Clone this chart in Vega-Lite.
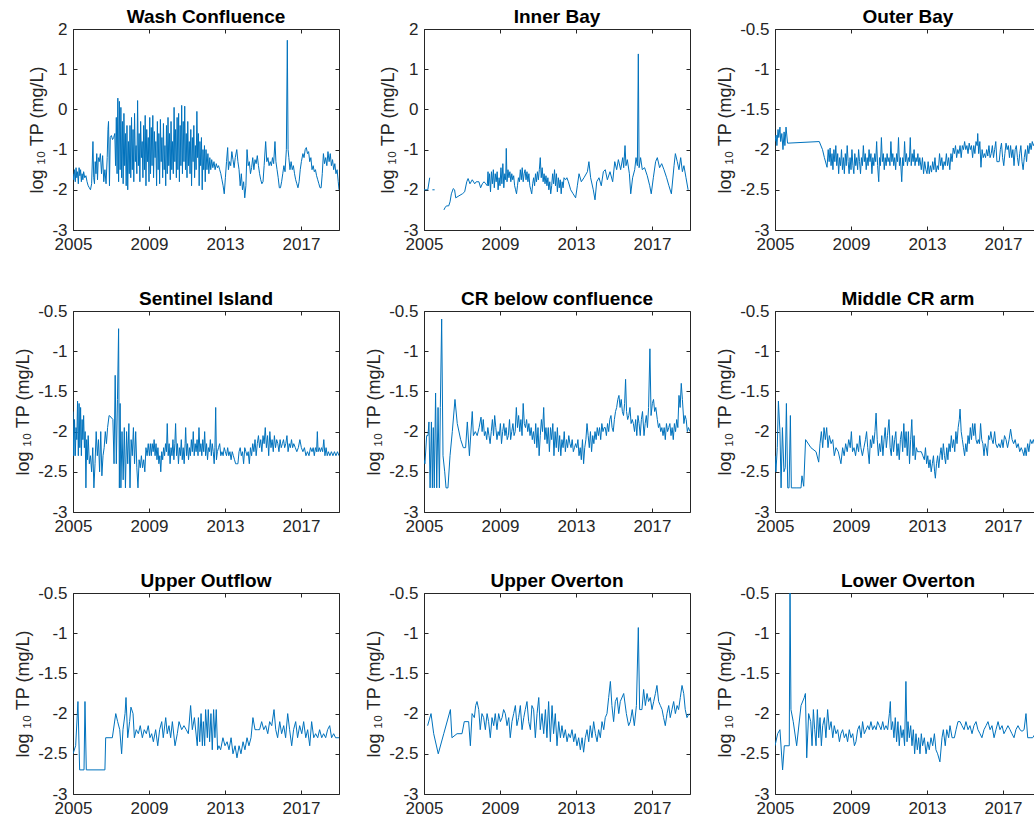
{
  "$schema": "https://vega.github.io/schema/vega-lite/v6.json",
  "background": "white",
  "padding": {"left": 14, "top": 7, "right": 0, "bottom": 0},
  "columns": 3,
  "spacing": {"row": 81, "column": 85},
  "bounds": "flush",
  "config": {
    "view": {"stroke": "#262626", "strokeWidth": 1},
    "axis": {
      "domain": false,
      "grid": false,
      "tickSize": -4,
      "tickColor": "#262626",
      "labelFont": "Liberation Sans",
      "labelFontSize": 17,
      "labelColor": "#262626",
      "labelOverlap": false,
      "labelFlush": false,
      "labelBound": false,
      "titleFont": "Liberation Sans",
      "titleFontSize": 18,
      "titleFontWeight": "normal",
      "titleColor": "#262626"
    },
    "axisX": {"labelPadding": 10},
    "axisY": {"labelPadding": 10, "titlePadding": 5},
    "title": {"font": "Liberation Sans", "fontSize": 19, "fontWeight": "bold", "color": "#000000", "frame": "group", "anchor": "middle", "offset": -7},
    "line": {"color": "#0072BD", "strokeWidth": 1}
  },
  "datasets": {
    "washConfluence": [
      {"t":2005.00,"v":-1.6},{"t":2005.04,"v":-1.75},{"t":2005.08,"v":-1.5},{"t":2005.12,"v":-1.8},{"t":2005.16,"v":-1.45},{"t":2005.20,"v":-1.7},{"t":2005.24,"v":-1.55},{"t":2005.28,"v":-1.85},{"t":2005.32,"v":-1.45},{"t":2005.36,"v":-1.65},{"t":2005.40,"v":-1.5},{"t":2005.44,"v":-1.8},{"t":2005.48,"v":-1.6},{"t":2005.52,"v":-1.75},{"t":2005.56,"v":-1.55},{"t":2005.62,"v":-1.7},{"t":2005.68,"v":-1.65},{"t":2005.74,"v":-1.8},{"t":2005.80,"v":-1.9},{"t":2005.86,"v":-1.95},{"t":2005.92,"v":-2.0},{"t":2005.98,"v":-1.85},
      {"t":2006.05,"v":-0.8},{"t":2006.09,"v":-1.7},{"t":2006.13,"v":-1.85},{"t":2006.17,"v":-1.3},{"t":2006.21,"v":-1.6},{"t":2006.25,"v":-1.1},{"t":2006.29,"v":-1.75},{"t":2006.33,"v":-1.2},{"t":2006.38,"v":-1.3},{"t":2006.44,"v":-1.1},{"t":2006.50,"v":-1.6},{"t":2006.56,"v":-1.15},{"t":2006.62,"v":-1.8},{"t":2006.68,"v":-1.5},{"t":2006.74,"v":-1.85},{"t":2006.80,"v":-1.2},{"t":2006.84,"v":-0.5},{"t":2006.87,"v":-0.3},{"t":2006.92,"v":-1.9},{"t":2006.96,"v":-0.7},
      {"t":2007.02,"v":-0.65},{"t":2007.08,"v":-0.75},{"t":2007.14,"v":-0.7},{"t":2007.20,"v":-0.6},{"t":2007.24,"v":-1.4},{"t":2007.28,"v":-0.2},{"t":2007.32,"v":-1.6},{"t":2007.36,"v":0.28},{"t":2007.40,"v":-1.8},{"t":2007.44,"v":0.2},{"t":2007.48,"v":-1.5},{"t":2007.52,"v":0.05},{"t":2007.56,"v":-1.7},{"t":2007.60,"v":-0.3},{"t":2007.64,"v":-1.85},{"t":2007.68,"v":-0.1},{"t":2007.72,"v":-1.4},{"t":2007.76,"v":-0.6},{"t":2007.80,"v":-1.9},{"t":2007.84,"v":-0.4},{"t":2007.88,"v":-2.0},{"t":2007.92,"v":-0.8},{"t":2007.96,"v":-1.6},
      {"t":2008.00,"v":-0.4},{"t":2008.04,"v":-1.7},{"t":2008.08,"v":-0.2},{"t":2008.12,"v":-1.5},{"t":2008.16,"v":-0.5},{"t":2008.20,"v":-1.8},{"t":2008.24,"v":-0.1},{"t":2008.28,"v":-1.3},{"t":2008.32,"v":-0.9},{"t":2008.36,"v":-1.6},{"t":2008.40,"v":0.22},{"t":2008.44,"v":-1.4},{"t":2008.48,"v":-0.6},{"t":2008.52,"v":-1.8},{"t":2008.56,"v":-0.3},{"t":2008.60,"v":-1.2},{"t":2008.64,"v":-0.8},{"t":2008.68,"v":-1.7},{"t":2008.72,"v":-0.4},{"t":2008.76,"v":-1.5},{"t":2008.80,"v":-0.15},{"t":2008.84,"v":-1.9},{"t":2008.88,"v":-0.5},{"t":2008.92,"v":-1.3},{"t":2008.96,"v":-0.7},
      {"t":2009.00,"v":-1.8},{"t":2009.04,"v":-0.2},{"t":2009.08,"v":-1.6},{"t":2009.12,"v":-0.45},{"t":2009.16,"v":-1.4},{"t":2009.20,"v":-0.15},{"t":2009.24,"v":-1.7},{"t":2009.28,"v":-0.55},{"t":2009.32,"v":-1.2},{"t":2009.36,"v":-0.8},{"t":2009.40,"v":-1.9},{"t":2009.44,"v":-0.3},{"t":2009.48,"v":-1.5},{"t":2009.52,"v":-0.6},{"t":2009.56,"v":-1.85},{"t":2009.60,"v":-0.25},{"t":2009.64,"v":-1.3},{"t":2009.68,"v":-0.7},{"t":2009.72,"v":-1.7},{"t":2009.76,"v":-0.35},{"t":2009.80,"v":-1.5},{"t":2009.84,"v":-0.9},{"t":2009.88,"v":-1.9},{"t":2009.92,"v":-0.4},{"t":2009.96,"v":-1.6},
      {"t":2010.00,"v":-0.2},{"t":2010.04,"v":-1.4},{"t":2010.08,"v":-0.6},{"t":2010.12,"v":-1.75},{"t":2010.16,"v":-0.3},{"t":2010.20,"v":-1.5},{"t":2010.24,"v":-0.8},{"t":2010.28,"v":-1.6},{"t":2010.32,"v":0.05},{"t":2010.36,"v":-1.3},{"t":2010.40,"v":-0.5},{"t":2010.44,"v":-1.7},{"t":2010.48,"v":-0.2},{"t":2010.52,"v":-1.5},{"t":2010.56,"v":-0.1},{"t":2010.60,"v":-1.8},{"t":2010.64,"v":-0.4},{"t":2010.68,"v":-1.4},{"t":2010.72,"v":0.1},{"t":2010.76,"v":-1.6},{"t":2010.80,"v":-0.3},{"t":2010.84,"v":-1.3},{"t":2010.88,"v":0.08},{"t":2010.92,"v":-1.5},{"t":2010.96,"v":-0.6},
      {"t":2011.00,"v":-1.7},{"t":2011.04,"v":-0.3},{"t":2011.08,"v":-1.4},{"t":2011.12,"v":-0.8},{"t":2011.16,"v":-1.6},{"t":2011.20,"v":-0.5},{"t":2011.24,"v":-1.9},{"t":2011.28,"v":-0.7},{"t":2011.32,"v":-1.3},{"t":2011.36,"v":-0.4},{"t":2011.40,"v":-1.7},{"t":2011.44,"v":-0.9},{"t":2011.48,"v":-1.5},{"t":2011.52,"v":-0.05},{"t":2011.56,"v":-1.2},{"t":2011.60,"v":-0.6},{"t":2011.64,"v":-1.9},{"t":2011.68,"v":-0.8},{"t":2011.72,"v":-1.4},{"t":2011.76,"v":-0.7},{"t":2011.80,"v":-2.0},{"t":2011.84,"v":-1.0},{"t":2011.88,"v":-1.5},{"t":2011.92,"v":-0.9},{"t":2011.96,"v":-1.8},
      {"t":2012.00,"v":-1.0},{"t":2012.05,"v":-1.5},{"t":2012.10,"v":-1.1},{"t":2012.15,"v":-1.6},{"t":2012.20,"v":-1.2},{"t":2012.25,"v":-1.5},{"t":2012.30,"v":-1.25},{"t":2012.36,"v":-1.45},{"t":2012.42,"v":-1.3},{"t":2012.48,"v":-1.5},{"t":2012.54,"v":-1.35},{"t":2012.60,"v":-1.45},{"t":2012.66,"v":-1.4},{"t":2012.72,"v":-1.5},{"t":2012.78,"v":-1.6},{"t":2012.84,"v":-1.75},{"t":2012.90,"v":-1.9},{"t":2012.96,"v":-2.1},
      {"t":2013.02,"v":-1.7},{"t":2013.08,"v":-1.3},{"t":2013.14,"v":-0.95},{"t":2013.18,"v":-1.5},{"t":2013.24,"v":-1.3},{"t":2013.30,"v":-1.4},{"t":2013.36,"v":-1.05},{"t":2013.42,"v":-1.25},{"t":2013.48,"v":-1.45},{"t":2013.54,"v":-1.2},{"t":2013.62,"v":-1.0},{"t":2013.68,"v":-1.3},{"t":2013.74,"v":-1.5},{"t":2013.80,"v":-1.9},{"t":2013.86,"v":-1.6},{"t":2013.92,"v":-2.0},{"t":2013.98,"v":-1.8},{"t":2014.04,"v":-2.2},{"t":2014.10,"v":-1.9},{"t":2014.16,"v":-1.0},{"t":2014.22,"v":-1.4},{"t":2014.28,"v":-1.3},{"t":2014.34,"v":-1.6},{"t":2014.40,"v":-1.45},{"t":2014.46,"v":-1.2},{"t":2014.52,"v":-1.5},{"t":2014.58,"v":-1.25},{"t":2014.64,"v":-1.35},{"t":2014.70,"v":-1.15},{"t":2014.76,"v":-1.4},{"t":2014.82,"v":-1.6},{"t":2014.88,"v":-1.75},{"t":2014.94,"v":-1.85},
      {"t":2015.00,"v":-1.8},{"t":2015.06,"v":-1.4},{"t":2015.14,"v":-0.8},{"t":2015.20,"v":-1.3},{"t":2015.26,"v":-1.2},{"t":2015.32,"v":-1.4},{"t":2015.38,"v":-1.3},{"t":2015.44,"v":-1.4},{"t":2015.50,"v":-1.2},{"t":2015.56,"v":-1.35},{"t":2015.63,"v":-0.8},{"t":2015.68,"v":-1.3},{"t":2015.74,"v":-1.5},{"t":2015.80,"v":-1.7},{"t":2015.86,"v":-1.95},{"t":2015.92,"v":-1.95},{"t":2015.98,"v":-1.8},{"t":2016.04,"v":-1.6},{"t":2016.10,"v":-1.4},{"t":2016.16,"v":-1.55},{"t":2016.23,"v":-1.0},{"t":2016.28,"v":1.72},{"t":2016.32,"v":-1.0},{"t":2016.36,"v":-1.2},{"t":2016.42,"v":-1.5},{"t":2016.48,"v":-1.3},{"t":2016.54,"v":-1.5},{"t":2016.60,"v":-1.4},{"t":2016.66,"v":-1.6},{"t":2016.72,"v":-1.75},{"t":2016.78,"v":-1.85},{"t":2016.84,"v":-1.95},{"t":2016.90,"v":-1.8},{"t":2016.96,"v":-1.5},
      {"t":2017.02,"v":-1.3},{"t":2017.10,"v":-1.1},{"t":2017.16,"v":-1.2},{"t":2017.22,"v":-1.0},{"t":2017.28,"v":-0.95},{"t":2017.34,"v":-1.1},{"t":2017.40,"v":-1.05},{"t":2017.46,"v":-1.3},{"t":2017.52,"v":-1.2},{"t":2017.58,"v":-1.5},{"t":2017.64,"v":-1.4},{"t":2017.70,"v":-1.55},{"t":2017.76,"v":-1.5},{"t":2017.82,"v":-1.65},{"t":2017.88,"v":-1.75},{"t":2017.94,"v":-1.85},{"t":2018.00,"v":-1.95},{"t":2018.06,"v":-1.95},{"t":2018.12,"v":-1.6},{"t":2018.18,"v":-1.1},{"t":2018.24,"v":-1.35},{"t":2018.30,"v":-1.2},{"t":2018.36,"v":-1.4},{"t":2018.42,"v":-1.05},{"t":2018.48,"v":-1.3},{"t":2018.54,"v":-1.1},{"t":2018.60,"v":-1.4},{"t":2018.66,"v":-1.25},{"t":2018.72,"v":-1.5},{"t":2018.78,"v":-1.35},{"t":2018.84,"v":-1.6},{"t":2018.90,"v":-1.5},{"t":2018.96,"v":-1.8},{"t":2019.00,"v":-2.0}
    ],
    "innerBay": [
      {"g":1,"t":2005.00,"v":-2.0},{"g":1,"t":2005.10,"v":-2.0},{"g":1,"t":2005.20,"v":-2.0},{"g":1,"t":2005.30,"v":-1.7},
      {"g":2,"t":2005.44,"v":-2.0},{"g":2,"t":2005.56,"v":-2.0},
      {"g":3,"t":2006.05,"v":-2.5},{"g":3,"t":2006.10,"v":-2.45},{"g":3,"t":2006.18,"v":-2.4},{"g":3,"t":2006.30,"v":-2.4},{"g":3,"t":2006.37,"v":-2.3},{"g":3,"t":2006.44,"v":-2.1},{"g":3,"t":2006.54,"v":-1.97},{"g":3,"t":2006.61,"v":-2.0},{"g":3,"t":2006.67,"v":-2.2},{"g":3,"t":2006.84,"v":-2.15},{"g":3,"t":2007.02,"v":-2.1},{"g":3,"t":2007.14,"v":-2.05},{"g":3,"t":2007.25,"v":-1.8},{"g":3,"t":2007.32,"v":-1.72},{"g":3,"t":2007.42,"v":-1.85},{"g":3,"t":2007.54,"v":-1.75},{"g":3,"t":2007.67,"v":-1.85},{"g":3,"t":2007.75,"v":-1.8},{"g":3,"t":2007.89,"v":-1.8},{"g":3,"t":2007.98,"v":-1.95},{"g":3,"t":2008.07,"v":-1.85},{"g":3,"t":2008.16,"v":-1.8},{"g":3,"t":2008.25,"v":-1.85},{"g":3,"t":2008.33,"v":-1.9},{"g":3,"t":2008.37,"v":-1.55},
      {"g":3,"t":2008.40,"v":-1.9},{"g":3,"t":2008.45,"v":-1.6},{"g":3,"t":2008.50,"v":-2.05},{"g":3,"t":2008.55,"v":-1.55},{"g":3,"t":2008.60,"v":-1.85},{"g":3,"t":2008.65,"v":-1.5},{"g":3,"t":2008.70,"v":-1.95},{"g":3,"t":2008.75,"v":-1.6},{"g":3,"t":2008.80,"v":-1.8},{"g":3,"t":2008.85,"v":-1.55},{"g":3,"t":2008.90,"v":-2.0},{"g":3,"t":2008.95,"v":-1.7},{"g":3,"t":2009.00,"v":-1.9},{"g":3,"t":2009.05,"v":-1.45},{"g":3,"t":2009.10,"v":-1.85},{"g":3,"t":2009.15,"v":-1.35},{"g":3,"t":2009.20,"v":-1.95},{"g":3,"t":2009.25,"v":-1.6},{"g":3,"t":2009.30,"v":-1.75},{"g":3,"t":2009.33,"v":-0.97},{"g":3,"t":2009.37,"v":-1.8},{"g":3,"t":2009.42,"v":-1.5},{"g":3,"t":2009.47,"v":-1.7},{"g":3,"t":2009.52,"v":-1.55},{"g":3,"t":2009.57,"v":-1.8},{"g":3,"t":2009.62,"v":-1.6},{"g":3,"t":2009.67,"v":-1.75},{"g":3,"t":2009.72,"v":-1.65},{"g":3,"t":2009.77,"v":-1.9},{"g":3,"t":2009.82,"v":-2.0},{"g":3,"t":2009.87,"v":-2.1},{"g":3,"t":2009.92,"v":-1.9},{"g":3,"t":2009.97,"v":-1.7},
      {"g":3,"t":2010.02,"v":-1.8},{"g":3,"t":2010.07,"v":-1.5},{"g":3,"t":2010.12,"v":-1.75},{"g":3,"t":2010.17,"v":-1.45},{"g":3,"t":2010.22,"v":-1.8},{"g":3,"t":2010.27,"v":-1.6},{"g":3,"t":2010.32,"v":-1.5},{"g":3,"t":2010.37,"v":-1.75},{"g":3,"t":2010.42,"v":-1.55},{"g":3,"t":2010.47,"v":-1.8},{"g":3,"t":2010.52,"v":-1.6},{"g":3,"t":2010.57,"v":-1.9},{"g":3,"t":2010.62,"v":-2.0},{"g":3,"t":2010.67,"v":-2.1},{"g":3,"t":2010.72,"v":-1.85},{"g":3,"t":2010.77,"v":-1.7},{"g":3,"t":2010.82,"v":-1.9},{"g":3,"t":2010.87,"v":-1.6},{"g":3,"t":2010.92,"v":-1.8},{"g":3,"t":2010.97,"v":-1.55},
      {"g":3,"t":2011.02,"v":-1.75},{"g":3,"t":2011.07,"v":-1.5},{"g":3,"t":2011.12,"v":-1.2},{"g":3,"t":2011.17,"v":-1.7},{"g":3,"t":2011.22,"v":-1.45},{"g":3,"t":2011.27,"v":-1.8},{"g":3,"t":2011.32,"v":-1.6},{"g":3,"t":2011.37,"v":-1.85},{"g":3,"t":2011.42,"v":-1.65},{"g":3,"t":2011.47,"v":-1.9},{"g":3,"t":2011.52,"v":-1.7},{"g":3,"t":2011.57,"v":-2.0},{"g":3,"t":2011.62,"v":-1.8},{"g":3,"t":2011.67,"v":-2.1},{"g":3,"t":2011.72,"v":-1.9},{"g":3,"t":2011.77,"v":-1.6},{"g":3,"t":2011.82,"v":-1.85},{"g":3,"t":2011.87,"v":-1.5},{"g":3,"t":2011.92,"v":-1.9},{"g":3,"t":2011.97,"v":-1.6},
      {"g":3,"t":2012.02,"v":-2.05},{"g":3,"t":2012.07,"v":-1.7},{"g":3,"t":2012.12,"v":-1.95},{"g":3,"t":2012.17,"v":-1.75},{"g":3,"t":2012.22,"v":-2.1},{"g":3,"t":2012.27,"v":-1.8},{"g":3,"t":2012.32,"v":-1.95},{"g":3,"t":2012.37,"v":-1.7},{"g":3,"t":2012.45,"v":-1.75},{"g":3,"t":2012.52,"v":-1.7},{"g":3,"t":2012.60,"v":-1.8},{"g":3,"t":2012.72,"v":-2.0},{"g":3,"t":2012.85,"v":-2.1},{"g":3,"t":2012.98,"v":-2.2},
      {"g":3,"t":2013.07,"v":-1.9},{"g":3,"t":2013.16,"v":-1.6},{"g":3,"t":2013.28,"v":-1.8},{"g":3,"t":2013.42,"v":-1.7},{"g":3,"t":2013.60,"v":-1.55},{"g":3,"t":2013.68,"v":-1.3},{"g":3,"t":2013.77,"v":-1.7},{"g":3,"t":2013.91,"v":-2.0},{"g":3,"t":2014.00,"v":-2.25},{"g":3,"t":2014.09,"v":-1.8},{"g":3,"t":2014.21,"v":-1.7},{"g":3,"t":2014.33,"v":-1.9},{"g":3,"t":2014.44,"v":-1.55},{"g":3,"t":2014.54,"v":-1.5},{"g":3,"t":2014.65,"v":-1.75},{"g":3,"t":2014.79,"v":-1.55},{"g":3,"t":2014.93,"v":-1.8},
      {"g":3,"t":2015.04,"v":-1.3},{"g":3,"t":2015.14,"v":-1.5},{"g":3,"t":2015.23,"v":-1.25},{"g":3,"t":2015.35,"v":-1.5},{"g":3,"t":2015.46,"v":-1.2},{"g":3,"t":2015.51,"v":-1.45},{"g":3,"t":2015.58,"v":-0.9},{"g":3,"t":2015.63,"v":-1.4},{"g":3,"t":2015.70,"v":-1.25},{"g":3,"t":2015.81,"v":-1.6},{"g":3,"t":2015.88,"v":-2.1},{"g":3,"t":2015.98,"v":-1.7},{"g":3,"t":2016.09,"v":-1.5},{"g":3,"t":2016.16,"v":-1.2},{"g":3,"t":2016.23,"v":-1.4},{"g":3,"t":2016.28,"v":1.38},{"g":3,"t":2016.32,"v":-1.45},{"g":3,"t":2016.40,"v":-1.2},{"g":3,"t":2016.49,"v":-1.5},{"g":3,"t":2016.61,"v":-1.45},{"g":3,"t":2016.75,"v":-1.65},{"g":3,"t":2016.88,"v":-1.9},{"g":3,"t":2016.96,"v":-2.1},
      {"g":3,"t":2017.07,"v":-1.7},{"g":3,"t":2017.19,"v":-1.3},{"g":3,"t":2017.28,"v":-1.2},{"g":3,"t":2017.40,"v":-1.45},{"g":3,"t":2017.51,"v":-1.35},{"g":3,"t":2017.63,"v":-1.5},{"g":3,"t":2017.77,"v":-1.7},{"g":3,"t":2017.89,"v":-1.9},{"g":3,"t":2018.02,"v":-2.1},{"g":3,"t":2018.16,"v":-1.4},{"g":3,"t":2018.23,"v":-1.1},{"g":3,"t":2018.33,"v":-1.3},{"g":3,"t":2018.42,"v":-1.5},{"g":3,"t":2018.51,"v":-1.2},{"g":3,"t":2018.60,"v":-1.55},{"g":3,"t":2018.68,"v":-1.4},{"g":3,"t":2018.79,"v":-1.7},{"g":3,"t":2018.90,"v":-2.0}
    ],
    "outerBay": [
      {"t":2005.00,"v":-1.9},{"t":2005.06,"v":-1.82},{"t":2005.10,"v":-1.95},{"t":2005.16,"v":-1.75},{"t":2005.20,"v":-1.85},{"t":2005.26,"v":-1.72},{"t":2005.30,"v":-1.9},{"t":2005.36,"v":-1.8},{"t":2005.42,"v":-2.0},{"t":2005.48,"v":-1.78},{"t":2005.52,"v":-1.95},{"t":2005.58,"v":-1.72},{"t":2005.66,"v":-1.92},{"t":2007.33,"v":-1.9},{"t":2007.50,"v":-2.0},{"t":2007.60,"v":-2.1},{"t":2007.74,"v":-2.22},
      {"t":2007.80,"v":-2.0},{"t":2007.85,"v":-2.15},{"t":2007.90,"v":-1.98},{"t":2007.95,"v":-2.2},{"t":2008.00,"v":-2.05},{"t":2008.05,"v":-2.25},{"t":2008.10,"v":-2.0},{"t":2008.15,"v":-2.15},{"t":2008.20,"v":-1.95},{"t":2008.25,"v":-2.2},{"t":2008.30,"v":-2.05},{"t":2008.35,"v":-2.3},{"t":2008.40,"v":-2.1},{"t":2008.45,"v":-2.2},{"t":2008.50,"v":-2.0},{"t":2008.55,"v":-2.25},{"t":2008.60,"v":-2.1},{"t":2008.65,"v":-2.3},{"t":2008.70,"v":-2.05},{"t":2008.75,"v":-2.2},{"t":2008.80,"v":-1.95},{"t":2008.85,"v":-2.15},{"t":2008.90,"v":-2.3},{"t":2008.95,"v":-2.1},
      {"t":2009.00,"v":-2.25},{"t":2009.05,"v":-2.0},{"t":2009.10,"v":-2.2},{"t":2009.15,"v":-2.3},{"t":2009.20,"v":-2.05},{"t":2009.25,"v":-2.2},{"t":2009.30,"v":-2.1},{"t":2009.35,"v":-2.25},{"t":2009.40,"v":-2.0},{"t":2009.45,"v":-2.15},{"t":2009.50,"v":-2.3},{"t":2009.55,"v":-2.1},{"t":2009.60,"v":-2.2},{"t":2009.65,"v":-1.95},{"t":2009.70,"v":-2.15},{"t":2009.75,"v":-2.05},{"t":2009.80,"v":-2.25},{"t":2009.85,"v":-2.1},{"t":2009.90,"v":-2.2},{"t":2009.95,"v":-2.0},
      {"t":2010.00,"v":-2.15},{"t":2010.05,"v":-2.05},{"t":2010.10,"v":-2.3},{"t":2010.15,"v":-2.1},{"t":2010.20,"v":-2.2},{"t":2010.25,"v":-2.05},{"t":2010.30,"v":-2.15},{"t":2010.35,"v":-1.9},{"t":2010.40,"v":-2.2},{"t":2010.46,"v":-2.4},{"t":2010.50,"v":-2.1},{"t":2010.55,"v":-2.2},{"t":2010.60,"v":-1.85},{"t":2010.65,"v":-2.15},{"t":2010.70,"v":-2.05},{"t":2010.75,"v":-2.25},{"t":2010.80,"v":-2.1},{"t":2010.85,"v":-2.2},{"t":2010.90,"v":-2.05},{"t":2010.95,"v":-2.15},
      {"t":2011.00,"v":-2.1},{"t":2011.05,"v":-2.2},{"t":2011.10,"v":-1.9},{"t":2011.15,"v":-2.15},{"t":2011.20,"v":-2.05},{"t":2011.25,"v":-2.2},{"t":2011.30,"v":-2.1},{"t":2011.35,"v":-2.25},{"t":2011.40,"v":-2.05},{"t":2011.45,"v":-2.15},{"t":2011.50,"v":-1.85},{"t":2011.55,"v":-2.2},{"t":2011.60,"v":-2.1},{"t":2011.67,"v":-2.4},{"t":2011.72,"v":-2.1},{"t":2011.77,"v":-2.2},{"t":2011.82,"v":-1.9},{"t":2011.87,"v":-2.15},{"t":2011.92,"v":-2.05},{"t":2011.97,"v":-2.2},
      {"t":2012.02,"v":-2.1},{"t":2012.07,"v":-2.15},{"t":2012.12,"v":-1.85},{"t":2012.17,"v":-2.2},{"t":2012.22,"v":-2.05},{"t":2012.27,"v":-2.15},{"t":2012.32,"v":-2.0},{"t":2012.37,"v":-2.2},{"t":2012.42,"v":-2.1},{"t":2012.47,"v":-2.15},{"t":2012.52,"v":-2.05},{"t":2012.57,"v":-2.2},{"t":2012.62,"v":-2.1},{"t":2012.70,"v":-2.25},{"t":2012.76,"v":-2.1},{"t":2012.82,"v":-2.3},{"t":2012.88,"v":-2.15},{"t":2012.94,"v":-2.25},
      {"t":2013.00,"v":-2.3},{"t":2013.06,"v":-2.15},{"t":2013.12,"v":-2.3},{"t":2013.18,"v":-2.2},{"t":2013.24,"v":-2.28},{"t":2013.30,"v":-2.15},{"t":2013.36,"v":-2.25},{"t":2013.42,"v":-2.1},{"t":2013.48,"v":-2.28},{"t":2013.54,"v":-2.2},{"t":2013.60,"v":-2.25},{"t":2013.66,"v":-2.05},{"t":2013.72,"v":-2.2},{"t":2013.78,"v":-2.1},{"t":2013.84,"v":-2.25},{"t":2013.90,"v":-2.15},{"t":2013.96,"v":-2.2},
      {"t":2014.02,"v":-2.05},{"t":2014.08,"v":-2.2},{"t":2014.14,"v":-2.1},{"t":2014.20,"v":-2.25},{"t":2014.26,"v":-2.05},{"t":2014.32,"v":-2.15},{"t":2014.38,"v":-1.98},{"t":2014.44,"v":-2.05},{"t":2014.50,"v":-1.95},{"t":2014.56,"v":-2.1},{"t":2014.62,"v":-2.0},{"t":2014.68,"v":-2.05},{"t":2014.74,"v":-1.95},{"t":2014.80,"v":-2.1},{"t":2014.86,"v":-1.95},{"t":2014.92,"v":-2.0},{"t":2014.98,"v":-1.9},
      {"t":2015.04,"v":-2.0},{"t":2015.10,"v":-1.95},{"t":2015.16,"v":-2.05},{"t":2015.22,"v":-1.92},{"t":2015.28,"v":-2.0},{"t":2015.34,"v":-1.95},{"t":2015.40,"v":-2.1},{"t":2015.46,"v":-1.95},{"t":2015.52,"v":-2.05},{"t":2015.58,"v":-1.9},{"t":2015.64,"v":-1.95},{"t":2015.67,"v":-1.8},{"t":2015.72,"v":-2.05},{"t":2015.78,"v":-1.9},{"t":2015.84,"v":-2.22},{"t":2015.90,"v":-2.0},{"t":2015.96,"v":-2.1},
      {"t":2016.02,"v":-2.05},{"t":2016.08,"v":-2.1},{"t":2016.14,"v":-2.0},{"t":2016.20,"v":-2.08},{"t":2016.26,"v":-1.95},{"t":2016.32,"v":-2.1},{"t":2016.38,"v":-2.05},{"t":2016.44,"v":-1.95},{"t":2016.50,"v":-2.1},{"t":2016.56,"v":-2.0},{"t":2016.62,"v":-1.9},{"t":2016.68,"v":-2.15},{"t":2016.74,"v":-2.15},{"t":2016.80,"v":-2.15},{"t":2016.86,"v":-2.0},{"t":2016.92,"v":-1.92},{"t":2016.98,"v":-2.1},
      {"t":2017.04,"v":-2.2},{"t":2017.10,"v":-2.05},{"t":2017.16,"v":-1.92},{"t":2017.22,"v":-2.0},{"t":2017.28,"v":-1.95},{"t":2017.34,"v":-2.1},{"t":2017.40,"v":-1.95},{"t":2017.46,"v":-2.1},{"t":2017.52,"v":-2.0},{"t":2017.58,"v":-2.2},{"t":2017.64,"v":-2.0},{"t":2017.70,"v":-1.95},{"t":2017.76,"v":-2.1},{"t":2017.82,"v":-2.2},{"t":2017.88,"v":-2.05},{"t":2017.94,"v":-1.95},
      {"t":2018.00,"v":-2.15},{"t":2018.06,"v":-2.25},{"t":2018.12,"v":-2.1},{"t":2018.18,"v":-2.0},{"t":2018.24,"v":-2.15},{"t":2018.30,"v":-1.95},{"t":2018.36,"v":-2.05},{"t":2018.42,"v":-1.92},{"t":2018.48,"v":-2.0},{"t":2018.54,"v":-1.9},{"t":2018.60,"v":-1.95},{"t":2018.70,"v":-1.9},{"t":2018.80,"v":-1.85},{"t":2019.00,"v":-1.9}
    ],
    "sentinelIsland": [
      {"t":2005.00,"v":-1.75},{"t":2005.04,"v":-2.3},{"t":2005.08,"v":-1.85},{"t":2005.12,"v":-2.3},{"t":2005.16,"v":-1.95},{"t":2005.20,"v":-2.1},{"t":2005.24,"v":-1.62},{"t":2005.28,"v":-2.3},{"t":2005.32,"v":-1.65},{"t":2005.36,"v":-2.2},{"t":2005.40,"v":-1.7},{"t":2005.44,"v":-2.3},{"t":2005.48,"v":-1.85},{"t":2005.52,"v":-2.1},{"t":2005.56,"v":-1.8},{"t":2005.60,"v":-2.2},{"t":2005.64,"v":-2.0},{"t":2005.68,"v":-2.7},{"t":2005.72,"v":-2.1},{"t":2005.76,"v":-2.35},{"t":2005.80,"v":-2.05},{"t":2005.86,"v":-2.4},{"t":2005.92,"v":-2.3},{"t":2005.98,"v":-2.5},
      {"t":2006.04,"v":-2.2},{"t":2006.10,"v":-2.7},{"t":2006.16,"v":-2.4},{"t":2006.22,"v":-2.0},{"t":2006.28,"v":-2.3},{"t":2006.34,"v":-2.1},{"t":2006.40,"v":-2.5},{"t":2006.46,"v":-2.0},{"t":2006.52,"v":-2.55},{"t":2006.58,"v":-2.3},{"t":2006.64,"v":-2.2},{"t":2006.70,"v":-2.0},{"t":2006.76,"v":-2.15},{"t":2006.82,"v":-1.95},{"t":2006.90,"v":-1.8},
      {"t":2007.00,"v":-1.82},{"t":2007.10,"v":-1.85},{"t":2007.16,"v":-2.4},{"t":2007.22,"v":-1.3},{"t":2007.28,"v":-2.4},{"t":2007.34,"v":-1.6},{"t":2007.40,"v":-0.72},{"t":2007.44,"v":-2.7},{"t":2007.48,"v":-1.65},{"t":2007.52,"v":-2.7},{"t":2007.58,"v":-2.0},{"t":2007.64,"v":-2.6},{"t":2007.70,"v":-1.95},{"t":2007.76,"v":-2.7},{"t":2007.82,"v":-2.0},{"t":2007.88,"v":-2.4},{"t":2007.94,"v":-1.9},
      {"t":2008.00,"v":-2.7},{"t":2008.06,"v":-2.1},{"t":2008.12,"v":-2.3},{"t":2008.18,"v":-1.95},{"t":2008.24,"v":-2.4},{"t":2008.30,"v":-2.0},{"t":2008.36,"v":-2.45},{"t":2008.42,"v":-2.7},{"t":2008.48,"v":-2.35},{"t":2008.54,"v":-2.45},{"t":2008.60,"v":-2.3},{"t":2008.66,"v":-2.45},{"t":2008.72,"v":-2.35},{"t":2008.78,"v":-2.5},{"t":2008.84,"v":-2.2},{"t":2008.90,"v":-2.3},{"t":2008.96,"v":-2.15},
      {"t":2009.02,"v":-2.3},{"t":2009.07,"v":-2.15},{"t":2009.12,"v":-2.3},{"t":2009.17,"v":-2.15},{"t":2009.22,"v":-2.25},{"t":2009.27,"v":-2.1},{"t":2009.32,"v":-2.3},{"t":2009.37,"v":-2.15},{"t":2009.42,"v":-2.35},{"t":2009.47,"v":-2.2},{"t":2009.52,"v":-2.4},{"t":2009.57,"v":-2.3},{"t":2009.62,"v":-2.5},{"t":2009.67,"v":-2.25},{"t":2009.72,"v":-2.35},{"t":2009.77,"v":-2.2},{"t":2009.82,"v":-2.3},{"t":2009.87,"v":-2.15},{"t":2009.92,"v":-2.25},{"t":2009.96,"v":-1.9},
      {"t":2010.01,"v":-2.3},{"t":2010.06,"v":-2.15},{"t":2010.11,"v":-2.4},{"t":2010.16,"v":-2.2},{"t":2010.21,"v":-2.3},{"t":2010.26,"v":-2.1},{"t":2010.31,"v":-2.35},{"t":2010.36,"v":-2.15},{"t":2010.40,"v":-1.9},{"t":2010.45,"v":-2.3},{"t":2010.50,"v":-2.15},{"t":2010.55,"v":-2.4},{"t":2010.60,"v":-2.2},{"t":2010.65,"v":-2.3},{"t":2010.70,"v":-2.1},{"t":2010.75,"v":-2.35},{"t":2010.80,"v":-2.2},{"t":2010.85,"v":-2.4},{"t":2010.90,"v":-2.15},{"t":2010.93,"v":-1.95},{"t":2010.98,"v":-2.3},
      {"t":2011.03,"v":-2.15},{"t":2011.08,"v":-2.35},{"t":2011.13,"v":-2.2},{"t":2011.18,"v":-2.3},{"t":2011.23,"v":-2.1},{"t":2011.28,"v":-2.25},{"t":2011.33,"v":-2.0},{"t":2011.38,"v":-2.3},{"t":2011.43,"v":-2.15},{"t":2011.48,"v":-2.25},{"t":2011.53,"v":-2.1},{"t":2011.58,"v":-2.3},{"t":2011.63,"v":-1.95},{"t":2011.68,"v":-2.25},{"t":2011.73,"v":-2.15},{"t":2011.78,"v":-2.3},{"t":2011.83,"v":-2.1},{"t":2011.88,"v":-2.25},{"t":2011.93,"v":-2.0},{"t":2011.98,"v":-2.3},
      {"t":2012.03,"v":-2.15},{"t":2012.08,"v":-2.35},{"t":2012.13,"v":-2.2},{"t":2012.18,"v":-2.25},{"t":2012.23,"v":-2.1},{"t":2012.28,"v":-2.3},{"t":2012.33,"v":-2.15},{"t":2012.38,"v":-2.25},{"t":2012.43,"v":-2.4},{"t":2012.47,"v":-2.2},{"t":2012.51,"v":-1.7},{"t":2012.55,"v":-2.35},{"t":2012.60,"v":-2.25},{"t":2012.66,"v":-2.2},{"t":2012.72,"v":-2.15},{"t":2012.78,"v":-2.3},{"t":2012.84,"v":-2.25},{"t":2012.90,"v":-2.3},{"t":2012.96,"v":-2.2},
      {"t":2013.02,"v":-2.25},{"t":2013.08,"v":-2.3},{"t":2013.14,"v":-2.2},{"t":2013.20,"v":-2.3},{"t":2013.26,"v":-2.25},{"t":2013.32,"v":-2.35},{"t":2013.38,"v":-2.25},{"t":2013.44,"v":-2.3},{"t":2013.50,"v":-2.35},{"t":2013.56,"v":-2.4},{"t":2013.62,"v":-2.4},{"t":2013.68,"v":-2.4},{"t":2013.74,"v":-2.25},{"t":2013.80,"v":-2.2},{"t":2013.86,"v":-2.3},{"t":2013.92,"v":-2.25},{"t":2013.98,"v":-2.4},
      {"t":2014.04,"v":-2.2},{"t":2014.10,"v":-2.25},{"t":2014.16,"v":-2.3},{"t":2014.22,"v":-2.25},{"t":2014.28,"v":-2.4},{"t":2014.34,"v":-2.2},{"t":2014.40,"v":-2.3},{"t":2014.46,"v":-2.15},{"t":2014.52,"v":-2.25},{"t":2014.58,"v":-2.1},{"t":2014.64,"v":-2.3},{"t":2014.70,"v":-2.15},{"t":2014.76,"v":-2.05},{"t":2014.82,"v":-2.2},{"t":2014.88,"v":-2.1},{"t":2014.94,"v":-2.25},
      {"t":2015.00,"v":-2.05},{"t":2015.06,"v":-2.15},{"t":2015.12,"v":-1.95},{"t":2015.18,"v":-2.2},{"t":2015.24,"v":-2.05},{"t":2015.30,"v":-2.3},{"t":2015.36,"v":-2.0},{"t":2015.42,"v":-2.2},{"t":2015.48,"v":-2.1},{"t":2015.54,"v":-2.25},{"t":2015.60,"v":-2.05},{"t":2015.66,"v":-2.2},{"t":2015.72,"v":-2.1},{"t":2015.78,"v":-2.15},{"t":2015.84,"v":-2.25},{"t":2015.90,"v":-2.1},{"t":2015.96,"v":-2.2},
      {"t":2016.02,"v":-2.15},{"t":2016.08,"v":-2.1},{"t":2016.14,"v":-2.2},{"t":2016.20,"v":-2.15},{"t":2016.26,"v":-2.05},{"t":2016.32,"v":-2.25},{"t":2016.38,"v":-2.15},{"t":2016.44,"v":-2.2},{"t":2016.50,"v":-2.1},{"t":2016.56,"v":-2.2},{"t":2016.62,"v":-2.15},{"t":2016.70,"v":-2.2},{"t":2016.78,"v":-2.25},{"t":2016.86,"v":-2.2},{"t":2016.94,"v":-2.1},
      {"t":2017.02,"v":-2.2},{"t":2017.10,"v":-2.25},{"t":2017.18,"v":-2.2},{"t":2017.26,"v":-2.3},{"t":2017.34,"v":-2.25},{"t":2017.42,"v":-2.3},{"t":2017.50,"v":-2.2},{"t":2017.58,"v":-2.25},{"t":2017.64,"v":-2.2},{"t":2017.70,"v":-2.3},{"t":2017.76,"v":-2.2},{"t":2017.82,"v":-2.25},{"t":2017.86,"v":-2.0},{"t":2017.90,"v":-2.25},{"t":2017.96,"v":-2.2},
      {"t":2018.02,"v":-2.25},{"t":2018.08,"v":-2.2},{"t":2018.14,"v":-2.25},{"t":2018.20,"v":-2.1},{"t":2018.26,"v":-2.3},{"t":2018.32,"v":-2.2},{"t":2018.38,"v":-2.3},{"t":2018.44,"v":-2.25},{"t":2018.52,"v":-2.3},{"t":2018.60,"v":-2.25},{"t":2018.68,"v":-2.3},{"t":2018.76,"v":-2.25},{"t":2018.84,"v":-2.3},{"t":2018.92,"v":-2.25},{"t":2019.00,"v":-2.3}
    ],
    "crBelowConfluence": [
      {"t":2005.00,"v":-2.35},{"t":2005.05,"v":-2.4},{"t":2005.14,"v":-2.05},{"t":2005.21,"v":-2.05},{"t":2005.26,"v":-1.88},{"t":2005.32,"v":-2.7},{"t":2005.39,"v":-1.88},{"t":2005.44,"v":-2.7},{"t":2005.49,"v":-1.95},{"t":2005.54,"v":-2.7},{"t":2005.61,"v":-1.52},{"t":2005.67,"v":-2.7},{"t":2005.74,"v":-1.7},{"t":2005.81,"v":-2.7},{"t":2005.86,"v":-1.7},{"t":2005.93,"v":-0.6},
      {"t":2006.00,"v":-2.3},{"t":2006.09,"v":-2.5},{"t":2006.16,"v":-2.7},{"t":2006.26,"v":-2.7},{"t":2006.37,"v":-2.3},{"t":2006.49,"v":-2.0},{"t":2006.63,"v":-1.6},{"t":2006.75,"v":-1.9},{"t":2006.93,"v":-2.1},{"t":2007.07,"v":-2.2},{"t":2007.19,"v":-2.2},{"t":2007.28,"v":-1.88},{"t":2007.39,"v":-2.3},{"t":2007.54,"v":-1.75},{"t":2007.60,"v":-2.05},{"t":2007.70,"v":-2.0},{"t":2007.80,"v":-2.05},{"t":2007.90,"v":-1.95},
      {"t":2008.00,"v":-1.82},{"t":2008.06,"v":-2.0},{"t":2008.12,"v":-1.85},{"t":2008.18,"v":-2.05},{"t":2008.24,"v":-2.0},{"t":2008.30,"v":-2.1},{"t":2008.36,"v":-1.95},{"t":2008.42,"v":-2.05},{"t":2008.48,"v":-2.15},{"t":2008.54,"v":-2.0},{"t":2008.60,"v":-1.85},{"t":2008.66,"v":-2.05},{"t":2008.72,"v":-1.8},{"t":2008.78,"v":-1.95},{"t":2008.84,"v":-2.1},{"t":2008.90,"v":-2.0},{"t":2008.96,"v":-2.05},
      {"t":2009.02,"v":-1.9},{"t":2009.08,"v":-2.15},{"t":2009.14,"v":-2.0},{"t":2009.20,"v":-1.9},{"t":2009.26,"v":-2.05},{"t":2009.32,"v":-1.95},{"t":2009.38,"v":-2.1},{"t":2009.44,"v":-2.05},{"t":2009.50,"v":-1.85},{"t":2009.56,"v":-2.1},{"t":2009.62,"v":-2.0},{"t":2009.68,"v":-1.9},{"t":2009.74,"v":-2.05},{"t":2009.80,"v":-2.0},{"t":2009.86,"v":-1.7},{"t":2009.92,"v":-1.95},{"t":2009.98,"v":-1.8},
      {"t":2010.04,"v":-2.0},{"t":2010.10,"v":-1.85},{"t":2010.16,"v":-2.05},{"t":2010.22,"v":-1.65},{"t":2010.28,"v":-1.9},{"t":2010.34,"v":-1.95},{"t":2010.40,"v":-1.85},{"t":2010.46,"v":-2.0},{"t":2010.52,"v":-1.9},{"t":2010.58,"v":-2.05},{"t":2010.64,"v":-1.95},{"t":2010.70,"v":-2.1},{"t":2010.76,"v":-2.0},{"t":2010.82,"v":-2.15},{"t":2010.88,"v":-1.9},{"t":2010.94,"v":-2.2},
      {"t":2011.00,"v":-1.95},{"t":2011.06,"v":-2.3},{"t":2011.12,"v":-2.05},{"t":2011.18,"v":-1.85},{"t":2011.24,"v":-2.0},{"t":2011.30,"v":-1.7},{"t":2011.36,"v":-2.1},{"t":2011.42,"v":-1.95},{"t":2011.48,"v":-2.15},{"t":2011.54,"v":-1.95},{"t":2011.60,"v":-2.25},{"t":2011.66,"v":-1.95},{"t":2011.72,"v":-2.1},{"t":2011.78,"v":-1.9},{"t":2011.84,"v":-2.3},{"t":2011.90,"v":-2.0},{"t":2011.96,"v":-2.2},
      {"t":2012.02,"v":-1.95},{"t":2012.08,"v":-2.25},{"t":2012.14,"v":-2.05},{"t":2012.20,"v":-2.3},{"t":2012.26,"v":-2.1},{"t":2012.32,"v":-2.2},{"t":2012.38,"v":-2.0},{"t":2012.44,"v":-2.25},{"t":2012.50,"v":-2.1},{"t":2012.56,"v":-2.2},{"t":2012.62,"v":-2.05},{"t":2012.68,"v":-2.15},{"t":2012.74,"v":-2.2},{"t":2012.80,"v":-2.1},{"t":2012.86,"v":-2.25},{"t":2012.92,"v":-2.2},{"t":2012.98,"v":-2.15},
      {"t":2013.04,"v":-2.2},{"t":2013.10,"v":-2.1},{"t":2013.16,"v":-2.3},{"t":2013.22,"v":-2.2},{"t":2013.28,"v":-2.35},{"t":2013.34,"v":-2.1},{"t":2013.40,"v":-2.4},{"t":2013.46,"v":-2.2},{"t":2013.52,"v":-2.1},{"t":2013.58,"v":-1.9},{"t":2013.64,"v":-2.05},{"t":2013.70,"v":-2.2},{"t":2013.76,"v":-2.0},{"t":2013.82,"v":-2.25},{"t":2013.88,"v":-2.05},{"t":2013.94,"v":-2.15},
      {"t":2014.00,"v":-2.0},{"t":2014.06,"v":-2.1},{"t":2014.12,"v":-1.95},{"t":2014.18,"v":-2.05},{"t":2014.24,"v":-1.95},{"t":2014.30,"v":-2.1},{"t":2014.36,"v":-1.9},{"t":2014.42,"v":-2.0},{"t":2014.48,"v":-1.95},{"t":2014.54,"v":-1.95},{"t":2014.60,"v":-2.05},{"t":2014.66,"v":-1.9},{"t":2014.72,"v":-2.0},{"t":2014.78,"v":-1.85},{"t":2014.84,"v":-1.8},{"t":2014.90,"v":-1.95},{"t":2014.96,"v":-2.0},
      {"t":2015.02,"v":-1.85},{"t":2015.08,"v":-1.75},{"t":2015.14,"v":-1.7},{"t":2015.20,"v":-1.6},{"t":2015.26,"v":-1.55},{"t":2015.32,"v":-1.7},{"t":2015.38,"v":-1.6},{"t":2015.44,"v":-1.75},{"t":2015.50,"v":-1.8},{"t":2015.56,"v":-1.65},{"t":2015.61,"v":-1.35},{"t":2015.66,"v":-1.75},{"t":2015.72,"v":-1.85},{"t":2015.78,"v":-1.8},{"t":2015.84,"v":-1.7},{"t":2015.90,"v":-1.9},{"t":2015.96,"v":-1.85},
      {"t":2016.02,"v":-1.9},{"t":2016.08,"v":-2.0},{"t":2016.14,"v":-1.85},{"t":2016.20,"v":-2.05},{"t":2016.26,"v":-1.8},{"t":2016.32,"v":-1.9},{"t":2016.38,"v":-2.05},{"t":2016.44,"v":-1.85},{"t":2016.50,"v":-1.75},{"t":2016.58,"v":-2.05},{"t":2016.64,"v":-1.9},{"t":2016.70,"v":-1.8},{"t":2016.76,"v":-1.95},{"t":2016.82,"v":-1.7},{"t":2016.89,"v":-0.97},{"t":2016.95,"v":-1.8},
      {"t":2017.02,"v":-1.65},{"t":2017.08,"v":-1.6},{"t":2017.14,"v":-1.75},{"t":2017.20,"v":-1.7},{"t":2017.28,"v":-1.85},{"t":2017.34,"v":-1.95},{"t":2017.40,"v":-1.9},{"t":2017.46,"v":-2.0},{"t":2017.52,"v":-1.95},{"t":2017.58,"v":-2.05},{"t":2017.64,"v":-1.95},{"t":2017.70,"v":-2.1},{"t":2017.76,"v":-1.9},{"t":2017.82,"v":-2.0},{"t":2017.88,"v":-1.95},{"t":2017.94,"v":-1.9},
      {"t":2018.00,"v":-2.05},{"t":2018.06,"v":-1.95},{"t":2018.12,"v":-2.1},{"t":2018.18,"v":-1.9},{"t":2018.24,"v":-2.0},{"t":2018.30,"v":-1.85},{"t":2018.36,"v":-1.95},{"t":2018.42,"v":-1.55},{"t":2018.48,"v":-1.7},{"t":2018.54,"v":-1.4},{"t":2018.60,"v":-1.6},{"t":2018.68,"v":-1.9},{"t":2018.74,"v":-1.8},{"t":2018.80,"v":-1.85},{"t":2018.86,"v":-2.0},{"t":2018.92,"v":-1.95},{"t":2019.00,"v":-2.0}
    ],
    "middleCrArm": [
      {"t":2005.00,"v":-2.3},{"t":2005.05,"v":-2.5},{"t":2005.12,"v":-2.2},{"t":2005.18,"v":-1.62},{"t":2005.26,"v":-2.0},{"t":2005.32,"v":-2.7},{"t":2005.39,"v":-1.95},{"t":2005.47,"v":-2.5},{"t":2005.54,"v":-2.45},{"t":2005.60,"v":-1.65},{"t":2005.67,"v":-2.7},{"t":2005.74,"v":-2.7},{"t":2005.81,"v":-1.8},{"t":2005.86,"v":-2.7},{"t":2006.11,"v":-2.7},{"t":2006.37,"v":-2.7},{"t":2006.42,"v":-2.55},{"t":2006.51,"v":-2.68},{"t":2006.61,"v":-2.1},{"t":2006.89,"v":-2.2},
      {"t":2007.16,"v":-2.25},{"t":2007.30,"v":-2.38},{"t":2007.37,"v":-2.15},{"t":2007.44,"v":-2.0},{"t":2007.51,"v":-2.2},{"t":2007.58,"v":-1.95},{"t":2007.65,"v":-2.1},{"t":2007.72,"v":-1.95},{"t":2007.79,"v":-2.2},{"t":2007.86,"v":-2.05},{"t":2007.95,"v":-2.15},{"t":2008.04,"v":-2.1},{"t":2008.12,"v":-2.3},{"t":2008.21,"v":-2.2},{"t":2008.33,"v":-2.25},{"t":2008.47,"v":-2.4},
      {"t":2008.56,"v":-2.2},{"t":2008.64,"v":-2.3},{"t":2008.72,"v":-2.15},{"t":2008.80,"v":-2.25},{"t":2008.88,"v":-2.1},{"t":2008.96,"v":-2.2},{"t":2009.02,"v":-2.0},{"t":2009.08,"v":-2.25},{"t":2009.16,"v":-2.2},{"t":2009.24,"v":-2.3},{"t":2009.32,"v":-2.15},{"t":2009.40,"v":-2.25},{"t":2009.46,"v":-2.05},{"t":2009.52,"v":-2.2},{"t":2009.60,"v":-2.3},{"t":2009.68,"v":-2.2},{"t":2009.76,"v":-2.1},{"t":2009.82,"v":-2.0},{"t":2009.88,"v":-2.2},{"t":2009.96,"v":-2.4},
      {"t":2010.02,"v":-2.1},{"t":2010.08,"v":-2.2},{"t":2010.14,"v":-2.05},{"t":2010.20,"v":-2.15},{"t":2010.26,"v":-2.0},{"t":2010.32,"v":-1.77},{"t":2010.38,"v":-2.1},{"t":2010.44,"v":-2.3},{"t":2010.50,"v":-2.15},{"t":2010.56,"v":-2.25},{"t":2010.62,"v":-2.05},{"t":2010.68,"v":-2.3},{"t":2010.74,"v":-2.1},{"t":2010.80,"v":-1.95},{"t":2010.86,"v":-2.2},{"t":2010.92,"v":-2.05},
      {"t":2011.00,"v":-1.85},{"t":2011.06,"v":-2.2},{"t":2011.12,"v":-2.3},{"t":2011.18,"v":-2.05},{"t":2011.24,"v":-2.25},{"t":2011.30,"v":-2.1},{"t":2011.36,"v":-2.0},{"t":2011.42,"v":-2.3},{"t":2011.48,"v":-2.15},{"t":2011.54,"v":-2.35},{"t":2011.60,"v":-2.1},{"t":2011.66,"v":-2.0},{"t":2011.72,"v":-2.25},{"t":2011.78,"v":-1.9},{"t":2011.84,"v":-2.2},{"t":2011.90,"v":-2.0},{"t":2011.96,"v":-2.3},
      {"t":2012.02,"v":-2.0},{"t":2012.08,"v":-2.4},{"t":2012.14,"v":-2.1},{"t":2012.20,"v":-1.85},{"t":2012.26,"v":-2.3},{"t":2012.32,"v":-2.05},{"t":2012.38,"v":-2.35},{"t":2012.44,"v":-2.2},{"t":2012.50,"v":-2.25},{"t":2012.60,"v":-2.25},{"t":2012.70,"v":-2.25},{"t":2012.78,"v":-2.3},{"t":2012.86,"v":-2.35},{"t":2012.92,"v":-2.2},{"t":2012.98,"v":-2.4},
      {"t":2013.04,"v":-2.3},{"t":2013.10,"v":-2.45},{"t":2013.16,"v":-2.35},{"t":2013.22,"v":-2.5},{"t":2013.28,"v":-2.4},{"t":2013.34,"v":-2.3},{"t":2013.40,"v":-2.5},{"t":2013.44,"v":-2.58},{"t":2013.50,"v":-2.4},{"t":2013.56,"v":-2.3},{"t":2013.62,"v":-2.45},{"t":2013.68,"v":-2.3},{"t":2013.74,"v":-2.2},{"t":2013.80,"v":-2.35},{"t":2013.86,"v":-2.15},{"t":2013.92,"v":-2.3},{"t":2013.98,"v":-2.4},
      {"t":2014.04,"v":-2.2},{"t":2014.10,"v":-2.35},{"t":2014.16,"v":-2.15},{"t":2014.22,"v":-2.25},{"t":2014.28,"v":-2.05},{"t":2014.34,"v":-2.2},{"t":2014.40,"v":-2.1},{"t":2014.46,"v":-2.25},{"t":2014.52,"v":-2.0},{"t":2014.58,"v":-2.15},{"t":2014.64,"v":-1.95},{"t":2014.70,"v":-1.85},{"t":2014.74,"v":-1.72},{"t":2014.80,"v":-2.0},{"t":2014.86,"v":-2.1},{"t":2014.92,"v":-2.2},{"t":2014.98,"v":-2.3},
      {"t":2015.04,"v":-2.15},{"t":2015.10,"v":-2.25},{"t":2015.16,"v":-2.05},{"t":2015.22,"v":-2.15},{"t":2015.28,"v":-1.95},{"t":2015.34,"v":-2.1},{"t":2015.40,"v":-1.9},{"t":2015.46,"v":-2.05},{"t":2015.52,"v":-1.9},{"t":2015.58,"v":-2.1},{"t":2015.64,"v":-2.15},{"t":2015.70,"v":-2.1},{"t":2015.76,"v":-2.15},{"t":2015.82,"v":-1.9},{"t":2015.88,"v":-2.1},{"t":2015.94,"v":-2.15},
      {"t":2016.00,"v":-2.3},{"t":2016.06,"v":-2.15},{"t":2016.12,"v":-2.2},{"t":2016.18,"v":-2.3},{"t":2016.24,"v":-2.05},{"t":2016.30,"v":-2.1},{"t":2016.36,"v":-2.0},{"t":2016.42,"v":-2.1},{"t":2016.48,"v":-2.15},{"t":2016.56,"v":-2.0},{"t":2016.62,"v":-2.15},{"t":2016.70,"v":-2.2},{"t":2016.78,"v":-2.15},{"t":2016.86,"v":-2.2},{"t":2016.94,"v":-2.1},
      {"t":2017.00,"v":-2.2},{"t":2017.08,"v":-2.05},{"t":2017.16,"v":-2.1},{"t":2017.24,"v":-2.2},{"t":2017.32,"v":-2.1},{"t":2017.40,"v":-1.97},{"t":2017.48,"v":-2.1},{"t":2017.56,"v":-2.15},{"t":2017.64,"v":-2.1},{"t":2017.72,"v":-2.2},{"t":2017.80,"v":-2.15},{"t":2017.88,"v":-2.25},{"t":2017.96,"v":-2.2},
      {"t":2018.04,"v":-2.25},{"t":2018.10,"v":-2.3},{"t":2018.16,"v":-2.2},{"t":2018.22,"v":-2.3},{"t":2018.30,"v":-2.15},{"t":2018.36,"v":-2.25},{"t":2018.44,"v":-2.1},{"t":2018.52,"v":-2.15},{"t":2018.60,"v":-2.1},{"t":2018.70,"v":-2.2},{"t":2018.80,"v":-2.1},{"t":2018.90,"v":-2.2},{"t":2019.00,"v":-2.15}
    ],
    "upperOutflow": [
      {"t":2005.00,"v":-2.5},{"t":2005.14,"v":-2.4},{"t":2005.26,"v":-1.85},{"t":2005.35,"v":-2.7},{"t":2005.58,"v":-2.7},{"t":2005.63,"v":-1.85},{"t":2005.70,"v":-2.7},{"t":2006.68,"v":-2.7},{"t":2006.72,"v":-2.3},{"t":2007.07,"v":-2.3},{"t":2007.25,"v":-2.0},{"t":2007.35,"v":-2.1},{"t":2007.46,"v":-2.2},{"t":2007.56,"v":-2.5},{"t":2007.63,"v":-2.2},{"t":2007.74,"v":-2.0},{"t":2007.79,"v":-1.8},{"t":2007.88,"v":-2.3},{"t":2007.98,"v":-2.1},
      {"t":2008.05,"v":-1.92},{"t":2008.16,"v":-2.0},{"t":2008.23,"v":-2.3},{"t":2008.33,"v":-2.2},{"t":2008.44,"v":-2.25},{"t":2008.54,"v":-2.15},{"t":2008.65,"v":-2.3},{"t":2008.75,"v":-2.2},{"t":2008.86,"v":-2.25},{"t":2008.96,"v":-2.15},{"t":2009.05,"v":-2.3},{"t":2009.14,"v":-2.25},{"t":2009.23,"v":-2.35},{"t":2009.35,"v":-2.2},{"t":2009.46,"v":-2.4},{"t":2009.56,"v":-2.2},{"t":2009.67,"v":-2.1},{"t":2009.75,"v":-2.3},{"t":2009.88,"v":-2.05},{"t":2009.96,"v":-2.25},
      {"t":2010.05,"v":-2.15},{"t":2010.14,"v":-2.3},{"t":2010.23,"v":-2.1},{"t":2010.37,"v":-2.4},{"t":2010.49,"v":-2.25},{"t":2010.58,"v":-2.1},{"t":2010.72,"v":-2.2},{"t":2010.84,"v":-2.15},{"t":2010.96,"v":-2.2},{"t":2011.07,"v":-2.25},{"t":2011.19,"v":-1.9},{"t":2011.28,"v":-2.2},{"t":2011.39,"v":-2.05},{"t":2011.54,"v":-2.4},{"t":2011.60,"v":-2.05},{"t":2011.67,"v":-2.35},{"t":2011.74,"v":-2.0},{"t":2011.81,"v":-2.4},{"t":2011.86,"v":-2.1},{"t":2011.93,"v":-2.4},{"t":2011.98,"v":-1.95},
      {"t":2012.07,"v":-2.3},{"t":2012.12,"v":-1.95},{"t":2012.19,"v":-2.35},{"t":2012.26,"v":-2.0},{"t":2012.33,"v":-2.45},{"t":2012.40,"v":-1.95},{"t":2012.47,"v":-2.3},{"t":2012.54,"v":-1.95},{"t":2012.61,"v":-2.45},{"t":2012.68,"v":-2.4},{"t":2012.77,"v":-2.45},{"t":2012.89,"v":-2.3},{"t":2013.00,"v":-2.4},{"t":2013.11,"v":-2.35},{"t":2013.21,"v":-2.45},{"t":2013.32,"v":-2.3},{"t":2013.42,"v":-2.5},{"t":2013.53,"v":-2.4},{"t":2013.63,"v":-2.55},{"t":2013.74,"v":-2.4},{"t":2013.84,"v":-2.5},{"t":2013.95,"v":-2.35},
      {"t":2014.05,"v":-2.45},{"t":2014.16,"v":-2.3},{"t":2014.26,"v":-2.4},{"t":2014.37,"v":-2.3},{"t":2014.47,"v":-2.05},{"t":2014.58,"v":-2.2},{"t":2014.70,"v":-2.2},{"t":2014.82,"v":-2.2},{"t":2014.93,"v":-2.1},{"t":2015.04,"v":-2.2},{"t":2015.14,"v":-2.15},{"t":2015.25,"v":-2.25},{"t":2015.35,"v":-2.1},{"t":2015.46,"v":-2.15},{"t":2015.58,"v":-1.95},{"t":2015.67,"v":-2.2},{"t":2015.77,"v":-2.3},{"t":2015.88,"v":-2.1},{"t":2015.98,"v":-2.25},
      {"t":2016.09,"v":-2.15},{"t":2016.19,"v":-2.3},{"t":2016.30,"v":-2.0},{"t":2016.40,"v":-2.2},{"t":2016.51,"v":-2.4},{"t":2016.61,"v":-2.2},{"t":2016.72,"v":-2.1},{"t":2016.82,"v":-2.3},{"t":2016.93,"v":-2.15},{"t":2017.04,"v":-2.25},{"t":2017.14,"v":-2.1},{"t":2017.25,"v":-2.3},{"t":2017.35,"v":-2.2},{"t":2017.46,"v":-2.4},{"t":2017.56,"v":-2.1},{"t":2017.67,"v":-2.3},{"t":2017.77,"v":-2.25},{"t":2017.88,"v":-2.3},{"t":2017.98,"v":-2.2},
      {"t":2018.09,"v":-2.3},{"t":2018.19,"v":-2.25},{"t":2018.30,"v":-2.3},{"t":2018.40,"v":-2.2},{"t":2018.51,"v":-2.15},{"t":2018.61,"v":-2.3},{"t":2018.72,"v":-2.25},{"t":2018.82,"v":-2.3},{"t":2019.00,"v":-2.3}
    ],
    "upperOverton": [
      {"t":2005.19,"v":-2.15},{"t":2005.37,"v":-2.0},{"t":2005.51,"v":-2.25},{"t":2005.75,"v":-2.5},{"t":2006.04,"v":-2.25},{"t":2006.39,"v":-1.95},{"t":2006.47,"v":-2.3},{"t":2006.74,"v":-2.25},{"t":2007.00,"v":-2.25},{"t":2007.12,"v":-2.1},{"t":2007.35,"v":-2.1},{"t":2007.44,"v":-2.4},{"t":2007.53,"v":-2.0},{"t":2007.65,"v":-2.05},{"t":2007.72,"v":-1.9},{"t":2007.79,"v":-1.85},{"t":2007.88,"v":-1.95},{"t":2007.96,"v":-2.2},
      {"t":2008.05,"v":-2.0},{"t":2008.14,"v":-2.05},{"t":2008.23,"v":-2.2},{"t":2008.32,"v":-2.0},{"t":2008.40,"v":-2.1},{"t":2008.49,"v":-2.3},{"t":2008.58,"v":-2.05},{"t":2008.67,"v":-2.15},{"t":2008.75,"v":-2.0},{"t":2008.84,"v":-2.2},{"t":2008.93,"v":-2.0},{"t":2009.02,"v":-2.1},{"t":2009.11,"v":-2.05},{"t":2009.19,"v":-1.95},{"t":2009.28,"v":-2.0},{"t":2009.37,"v":-2.15},{"t":2009.46,"v":-2.05},{"t":2009.54,"v":-2.3},{"t":2009.63,"v":-2.1},{"t":2009.72,"v":-2.0},{"t":2009.81,"v":-1.9},{"t":2009.89,"v":-2.15},{"t":2009.98,"v":-2.05},
      {"t":2010.07,"v":-1.9},{"t":2010.16,"v":-2.2},{"t":2010.25,"v":-2.05},{"t":2010.33,"v":-1.95},{"t":2010.42,"v":-1.85},{"t":2010.51,"v":-2.1},{"t":2010.60,"v":-2.2},{"t":2010.68,"v":-1.9},{"t":2010.77,"v":-1.95},{"t":2010.86,"v":-2.3},{"t":2010.95,"v":-2.0},{"t":2011.04,"v":-1.8},{"t":2011.12,"v":-2.2},{"t":2011.21,"v":-2.0},{"t":2011.30,"v":-2.25},{"t":2011.39,"v":-1.95},{"t":2011.47,"v":-2.3},{"t":2011.56,"v":-1.85},{"t":2011.65,"v":-2.35},{"t":2011.74,"v":-1.9},{"t":2011.82,"v":-2.25},{"t":2011.91,"v":-2.0},
      {"t":2012.00,"v":-2.4},{"t":2012.09,"v":-2.1},{"t":2012.18,"v":-2.3},{"t":2012.26,"v":-2.15},{"t":2012.35,"v":-2.3},{"t":2012.44,"v":-2.2},{"t":2012.53,"v":-2.35},{"t":2012.61,"v":-2.25},{"t":2012.70,"v":-2.3},{"t":2012.79,"v":-2.2},{"t":2012.88,"v":-2.35},{"t":2012.96,"v":-2.25},{"t":2013.05,"v":-2.4},{"t":2013.14,"v":-2.3},{"t":2013.23,"v":-2.45},{"t":2013.32,"v":-2.3},{"t":2013.40,"v":-2.48},{"t":2013.49,"v":-2.3},{"t":2013.58,"v":-2.2},{"t":2013.67,"v":-2.35},{"t":2013.75,"v":-2.15},{"t":2013.84,"v":-2.3},{"t":2013.93,"v":-2.1},
      {"t":2014.02,"v":-2.25},{"t":2014.11,"v":-2.35},{"t":2014.19,"v":-2.2},{"t":2014.28,"v":-2.3},{"t":2014.37,"v":-2.1},{"t":2014.46,"v":-2.2},{"t":2014.54,"v":-2.05},{"t":2014.63,"v":-2.0},{"t":2014.72,"v":-1.8},{"t":2014.81,"v":-1.6},{"t":2014.89,"v":-1.9},{"t":2014.98,"v":-2.1},{"t":2015.07,"v":-1.85},{"t":2015.16,"v":-1.8},{"t":2015.25,"v":-2.0},{"t":2015.33,"v":-1.85},{"t":2015.51,"v":-1.75},{"t":2015.65,"v":-2.0},{"t":2015.77,"v":-2.15},{"t":2015.86,"v":-2.1},{"t":2015.96,"v":-1.95},
      {"t":2016.07,"v":-2.15},{"t":2016.18,"v":-1.9},{"t":2016.28,"v":-0.93},{"t":2016.35,"v":-1.95},{"t":2016.47,"v":-1.95},{"t":2016.56,"v":-1.7},{"t":2016.65,"v":-1.9},{"t":2016.74,"v":-1.75},{"t":2016.82,"v":-1.85},{"t":2016.91,"v":-1.8},{"t":2017.00,"v":-1.95},{"t":2017.09,"v":-1.85},{"t":2017.18,"v":-1.75},{"t":2017.26,"v":-1.65},{"t":2017.35,"v":-1.85},{"t":2017.44,"v":-1.9},{"t":2017.53,"v":-1.95},{"t":2017.61,"v":-2.05},{"t":2017.70,"v":-2.15},{"t":2017.79,"v":-2.0},{"t":2017.88,"v":-1.9},{"t":2017.96,"v":-2.05},
      {"t":2018.05,"v":-1.95},{"t":2018.14,"v":-1.85},{"t":2018.23,"v":-2.0},{"t":2018.32,"v":-1.9},{"t":2018.40,"v":-1.95},{"t":2018.49,"v":-1.8},{"t":2018.58,"v":-1.65},{"t":2018.67,"v":-1.75},{"t":2018.75,"v":-1.95},{"t":2018.84,"v":-2.05},{"t":2018.95,"v":-2.0}
    ],
    "lowerOverton": [
      {"t":2005.00,"v":-2.4},{"t":2005.14,"v":-2.25},{"t":2005.26,"v":-2.2},{"t":2005.40,"v":-2.7},{"t":2005.49,"v":-2.4},{"t":2005.75,"v":-2.4},{"t":2005.79,"v":-0.4},{"t":2005.84,"v":-1.95},{"t":2005.96,"v":-2.1},{"t":2006.14,"v":-2.4},{"t":2006.37,"v":-1.9},{"t":2006.54,"v":-1.8},{"t":2006.60,"v":-1.75},{"t":2006.67,"v":-2.55},{"t":2006.77,"v":-2.0},{"t":2006.88,"v":-2.1},{"t":2006.95,"v":-2.4},
      {"t":2007.02,"v":-1.95},{"t":2007.09,"v":-2.2},{"t":2007.16,"v":-2.4},{"t":2007.23,"v":-1.95},{"t":2007.30,"v":-2.3},{"t":2007.37,"v":-2.05},{"t":2007.44,"v":-2.4},{"t":2007.51,"v":-2.15},{"t":2007.60,"v":-2.05},{"t":2007.68,"v":-2.3},{"t":2007.77,"v":-1.95},{"t":2007.86,"v":-2.2},{"t":2007.95,"v":-2.1},
      {"t":2008.04,"v":-2.3},{"t":2008.12,"v":-2.15},{"t":2008.21,"v":-2.25},{"t":2008.30,"v":-2.2},{"t":2008.39,"v":-2.35},{"t":2008.47,"v":-2.25},{"t":2008.56,"v":-2.2},{"t":2008.65,"v":-2.3},{"t":2008.74,"v":-2.25},{"t":2008.82,"v":-2.35},{"t":2008.91,"v":-2.2},{"t":2009.00,"v":-2.3},{"t":2009.09,"v":-2.25},{"t":2009.18,"v":-2.4},{"t":2009.26,"v":-2.35},{"t":2009.35,"v":-2.2},{"t":2009.44,"v":-2.15},{"t":2009.53,"v":-2.3},{"t":2009.61,"v":-2.1},{"t":2009.70,"v":-2.25},{"t":2009.79,"v":-2.2},{"t":2009.88,"v":-2.15},{"t":2009.96,"v":-2.2},
      {"t":2010.05,"v":-2.1},{"t":2010.14,"v":-2.2},{"t":2010.23,"v":-2.15},{"t":2010.32,"v":-2.2},{"t":2010.40,"v":-2.1},{"t":2010.49,"v":-2.15},{"t":2010.58,"v":-2.2},{"t":2010.67,"v":-2.1},{"t":2010.75,"v":-2.2},{"t":2010.84,"v":-2.15},{"t":2010.93,"v":-2.2},{"t":2011.02,"v":-2.0},{"t":2011.07,"v":-1.85},{"t":2011.12,"v":-2.2},{"t":2011.19,"v":-2.1},{"t":2011.26,"v":-2.3},{"t":2011.33,"v":-2.05},{"t":2011.40,"v":-2.35},{"t":2011.47,"v":-2.1},{"t":2011.54,"v":-2.4},{"t":2011.61,"v":-2.15},{"t":2011.68,"v":-2.3},{"t":2011.75,"v":-2.2},{"t":2011.82,"v":-2.4},{"t":2011.89,"v":-1.6},{"t":2011.95,"v":-2.35},
      {"t":2012.00,"v":-2.1},{"t":2012.07,"v":-2.3},{"t":2012.14,"v":-2.15},{"t":2012.21,"v":-2.4},{"t":2012.28,"v":-2.2},{"t":2012.35,"v":-2.5},{"t":2012.42,"v":-2.25},{"t":2012.49,"v":-2.45},{"t":2012.56,"v":-2.3},{"t":2012.63,"v":-2.5},{"t":2012.70,"v":-2.25},{"t":2012.77,"v":-2.4},{"t":2012.86,"v":-2.3},{"t":2012.95,"v":-2.5},{"t":2013.04,"v":-2.35},{"t":2013.12,"v":-2.45},{"t":2013.21,"v":-2.3},{"t":2013.30,"v":-2.4},{"t":2013.39,"v":-2.25},{"t":2013.47,"v":-2.45},{"t":2013.56,"v":-2.5},{"t":2013.68,"v":-2.6},{"t":2013.79,"v":-2.3},{"t":2013.86,"v":-2.2},{"t":2013.96,"v":-2.4},
      {"t":2014.04,"v":-2.2},{"t":2014.14,"v":-2.3},{"t":2014.21,"v":-2.15},{"t":2014.32,"v":-2.3},{"t":2014.44,"v":-2.3},{"t":2014.53,"v":-2.2},{"t":2014.63,"v":-2.1},{"t":2014.74,"v":-2.1},{"t":2014.84,"v":-2.15},{"t":2014.95,"v":-2.2},{"t":2015.05,"v":-2.1},{"t":2015.16,"v":-2.2},{"t":2015.26,"v":-2.15},{"t":2015.37,"v":-2.25},{"t":2015.47,"v":-2.15},{"t":2015.58,"v":-2.1},{"t":2015.68,"v":-2.2},{"t":2015.79,"v":-2.25},{"t":2015.89,"v":-2.3},
      {"t":2016.00,"v":-2.2},{"t":2016.11,"v":-2.15},{"t":2016.21,"v":-2.1},{"t":2016.32,"v":-2.2},{"t":2016.42,"v":-2.15},{"t":2016.53,"v":-2.3},{"t":2016.63,"v":-2.2},{"t":2016.74,"v":-2.1},{"t":2016.84,"v":-2.2},{"t":2016.95,"v":-2.15},{"t":2017.05,"v":-2.25},{"t":2017.16,"v":-2.2},{"t":2017.26,"v":-2.15},{"t":2017.37,"v":-2.2},{"t":2017.47,"v":-2.25},{"t":2017.58,"v":-2.3},{"t":2017.68,"v":-2.2},{"t":2017.79,"v":-2.15},{"t":2017.89,"v":-2.2},
      {"t":2018.00,"v":-2.22},{"t":2018.11,"v":-2.2},{"t":2018.21,"v":-2.0},{"t":2018.30,"v":-2.3},{"t":2018.47,"v":-2.3},{"t":2018.56,"v":-2.3},{"t":2018.70,"v":-2.25},{"t":2018.85,"v":-2.3},{"t":2019.00,"v":-2.25}
    ]
  },
  "concat": [
    {
      "title": "Wash Confluence", "width": 266, "height": 201,
      "data": {"name": "washConfluence"},
      "layer": [
        {"mark": {"type": "line", "clip": true},
         "encoding": {
           "x": {"field": "t", "type": "quantitative", "title": null, "scale": {"domain": [2005, 2019], "nice": false, "zero": false}, "axis": {"values": [2005, 2009, 2013, 2017], "format": "d"}},
           "y": {"field": "v", "type": "quantitative", "title": "log ₁₀ TP (mg/L)", "scale": {"domain": [-3, 2], "nice": false, "zero": false}, "axis": {"values": [-3, -2, -1, 0, 1, 2], "labelExpr": "'' + datum.value"}}}},
        {"mark": {"type": "line", "clip": true, "opacity": 0},
         "encoding": {
           "x": {"field": "t", "type": "quantitative", "title": null, "axis": {"orient": "top", "values": [2005, 2009, 2013, 2017], "labels": false}},
           "y": {"field": "v", "type": "quantitative", "title": null, "axis": {"orient": "right", "values": [-3, -2, -1, 0, 1, 2], "labels": false}}}}
      ],
      "resolve": {"axis": {"x": "independent", "y": "independent"}}
    },
    {
      "title": "Inner Bay", "width": 266, "height": 201,
      "data": {"name": "innerBay"},
      "layer": [
        {"mark": {"type": "line", "clip": true},
         "encoding": {
           "x": {"field": "t", "type": "quantitative", "title": null, "scale": {"domain": [2005, 2019], "nice": false, "zero": false}, "axis": {"values": [2005, 2009, 2013, 2017], "format": "d"}},
           "y": {"field": "v", "type": "quantitative", "title": "log ₁₀ TP (mg/L)", "scale": {"domain": [-3, 2], "nice": false, "zero": false}, "axis": {"values": [-3, -2, -1, 0, 1, 2], "labelExpr": "'' + datum.value"}},
           "detail": {"field": "g", "type": "nominal"}}},
        {"mark": {"type": "line", "clip": true, "opacity": 0},
         "encoding": {
           "x": {"field": "t", "type": "quantitative", "title": null, "axis": {"orient": "top", "values": [2005, 2009, 2013, 2017], "labels": false}},
           "y": {"field": "v", "type": "quantitative", "title": null, "axis": {"orient": "right", "values": [-3, -2, -1, 0, 1, 2], "labels": false}},
           "detail": {"field": "g", "type": "nominal"}}}
      ],
      "resolve": {"axis": {"x": "independent", "y": "independent"}}
    },
    {
      "title": "Outer Bay", "width": 266, "height": 201,
      "data": {"name": "outerBay"},
      "layer": [
        {"mark": {"type": "line", "clip": true},
         "encoding": {
           "x": {"field": "t", "type": "quantitative", "title": null, "scale": {"domain": [2005, 2019], "nice": false, "zero": false}, "axis": {"values": [2005, 2009, 2013, 2017], "format": "d"}},
           "y": {"field": "v", "type": "quantitative", "title": "log ₁₀ TP (mg/L)", "scale": {"domain": [-3, -0.5], "nice": false, "zero": false}, "axis": {"values": [-3, -2.5, -2, -1.5, -1, -0.5], "labelExpr": "'' + datum.value"}}}},
        {"mark": {"type": "line", "clip": true, "opacity": 0},
         "encoding": {
           "x": {"field": "t", "type": "quantitative", "title": null, "axis": {"orient": "top", "values": [2005, 2009, 2013, 2017], "labels": false}},
           "y": {"field": "v", "type": "quantitative", "title": null, "axis": {"orient": "right", "values": [-3, -2.5, -2, -1.5, -1, -0.5], "labels": false}}}}
      ],
      "resolve": {"axis": {"x": "independent", "y": "independent"}}
    },
    {
      "title": "Sentinel Island", "width": 266, "height": 201,
      "data": {"name": "sentinelIsland"},
      "layer": [
        {"mark": {"type": "line", "clip": true},
         "encoding": {
           "x": {"field": "t", "type": "quantitative", "title": null, "scale": {"domain": [2005, 2019], "nice": false, "zero": false}, "axis": {"values": [2005, 2009, 2013, 2017], "format": "d"}},
           "y": {"field": "v", "type": "quantitative", "title": "log ₁₀ TP (mg/L)", "scale": {"domain": [-3, -0.5], "nice": false, "zero": false}, "axis": {"values": [-3, -2.5, -2, -1.5, -1, -0.5], "labelExpr": "'' + datum.value"}}}},
        {"mark": {"type": "line", "clip": true, "opacity": 0},
         "encoding": {
           "x": {"field": "t", "type": "quantitative", "title": null, "axis": {"orient": "top", "values": [2005, 2009, 2013, 2017], "labels": false}},
           "y": {"field": "v", "type": "quantitative", "title": null, "axis": {"orient": "right", "values": [-3, -2.5, -2, -1.5, -1, -0.5], "labels": false}}}}
      ],
      "resolve": {"axis": {"x": "independent", "y": "independent"}}
    },
    {
      "title": "CR below confluence", "width": 266, "height": 201,
      "data": {"name": "crBelowConfluence"},
      "layer": [
        {"mark": {"type": "line", "clip": true},
         "encoding": {
           "x": {"field": "t", "type": "quantitative", "title": null, "scale": {"domain": [2005, 2019], "nice": false, "zero": false}, "axis": {"values": [2005, 2009, 2013, 2017], "format": "d"}},
           "y": {"field": "v", "type": "quantitative", "title": "log ₁₀ TP (mg/L)", "scale": {"domain": [-3, -0.5], "nice": false, "zero": false}, "axis": {"values": [-3, -2.5, -2, -1.5, -1, -0.5], "labelExpr": "'' + datum.value"}}}},
        {"mark": {"type": "line", "clip": true, "opacity": 0},
         "encoding": {
           "x": {"field": "t", "type": "quantitative", "title": null, "axis": {"orient": "top", "values": [2005, 2009, 2013, 2017], "labels": false}},
           "y": {"field": "v", "type": "quantitative", "title": null, "axis": {"orient": "right", "values": [-3, -2.5, -2, -1.5, -1, -0.5], "labels": false}}}}
      ],
      "resolve": {"axis": {"x": "independent", "y": "independent"}}
    },
    {
      "title": "Middle CR arm", "width": 266, "height": 201,
      "data": {"name": "middleCrArm"},
      "layer": [
        {"mark": {"type": "line", "clip": true},
         "encoding": {
           "x": {"field": "t", "type": "quantitative", "title": null, "scale": {"domain": [2005, 2019], "nice": false, "zero": false}, "axis": {"values": [2005, 2009, 2013, 2017], "format": "d"}},
           "y": {"field": "v", "type": "quantitative", "title": "log ₁₀ TP (mg/L)", "scale": {"domain": [-3, -0.5], "nice": false, "zero": false}, "axis": {"values": [-3, -2.5, -2, -1.5, -1, -0.5], "labelExpr": "'' + datum.value"}}}},
        {"mark": {"type": "line", "clip": true, "opacity": 0},
         "encoding": {
           "x": {"field": "t", "type": "quantitative", "title": null, "axis": {"orient": "top", "values": [2005, 2009, 2013, 2017], "labels": false}},
           "y": {"field": "v", "type": "quantitative", "title": null, "axis": {"orient": "right", "values": [-3, -2.5, -2, -1.5, -1, -0.5], "labels": false}}}}
      ],
      "resolve": {"axis": {"x": "independent", "y": "independent"}}
    },
    {
      "title": "Upper Outflow", "width": 266, "height": 201,
      "data": {"name": "upperOutflow"},
      "layer": [
        {"mark": {"type": "line", "clip": true},
         "encoding": {
           "x": {"field": "t", "type": "quantitative", "title": null, "scale": {"domain": [2005, 2019], "nice": false, "zero": false}, "axis": {"values": [2005, 2009, 2013, 2017], "format": "d"}},
           "y": {"field": "v", "type": "quantitative", "title": "log ₁₀ TP (mg/L)", "scale": {"domain": [-3, -0.5], "nice": false, "zero": false}, "axis": {"values": [-3, -2.5, -2, -1.5, -1, -0.5], "labelExpr": "'' + datum.value"}}}},
        {"mark": {"type": "line", "clip": true, "opacity": 0},
         "encoding": {
           "x": {"field": "t", "type": "quantitative", "title": null, "axis": {"orient": "top", "values": [2005, 2009, 2013, 2017], "labels": false}},
           "y": {"field": "v", "type": "quantitative", "title": null, "axis": {"orient": "right", "values": [-3, -2.5, -2, -1.5, -1, -0.5], "labels": false}}}}
      ],
      "resolve": {"axis": {"x": "independent", "y": "independent"}}
    },
    {
      "title": "Upper Overton", "width": 266, "height": 201,
      "data": {"name": "upperOverton"},
      "layer": [
        {"mark": {"type": "line", "clip": true},
         "encoding": {
           "x": {"field": "t", "type": "quantitative", "title": null, "scale": {"domain": [2005, 2019], "nice": false, "zero": false}, "axis": {"values": [2005, 2009, 2013, 2017], "format": "d"}},
           "y": {"field": "v", "type": "quantitative", "title": "log ₁₀ TP (mg/L)", "scale": {"domain": [-3, -0.5], "nice": false, "zero": false}, "axis": {"values": [-3, -2.5, -2, -1.5, -1, -0.5], "labelExpr": "'' + datum.value"}}}},
        {"mark": {"type": "line", "clip": true, "opacity": 0},
         "encoding": {
           "x": {"field": "t", "type": "quantitative", "title": null, "axis": {"orient": "top", "values": [2005, 2009, 2013, 2017], "labels": false}},
           "y": {"field": "v", "type": "quantitative", "title": null, "axis": {"orient": "right", "values": [-3, -2.5, -2, -1.5, -1, -0.5], "labels": false}}}}
      ],
      "resolve": {"axis": {"x": "independent", "y": "independent"}}
    },
    {
      "title": "Lower Overton", "width": 266, "height": 201,
      "data": {"name": "lowerOverton"},
      "layer": [
        {"mark": {"type": "line", "clip": true},
         "encoding": {
           "x": {"field": "t", "type": "quantitative", "title": null, "scale": {"domain": [2005, 2019], "nice": false, "zero": false}, "axis": {"values": [2005, 2009, 2013, 2017], "format": "d"}},
           "y": {"field": "v", "type": "quantitative", "title": "log ₁₀ TP (mg/L)", "scale": {"domain": [-3, -0.5], "nice": false, "zero": false}, "axis": {"values": [-3, -2.5, -2, -1.5, -1, -0.5], "labelExpr": "'' + datum.value"}}}},
        {"mark": {"type": "line", "clip": true, "opacity": 0},
         "encoding": {
           "x": {"field": "t", "type": "quantitative", "title": null, "axis": {"orient": "top", "values": [2005, 2009, 2013, 2017], "labels": false}},
           "y": {"field": "v", "type": "quantitative", "title": null, "axis": {"orient": "right", "values": [-3, -2.5, -2, -1.5, -1, -0.5], "labels": false}}}}
      ],
      "resolve": {"axis": {"x": "independent", "y": "independent"}}
    }
  ]
}
